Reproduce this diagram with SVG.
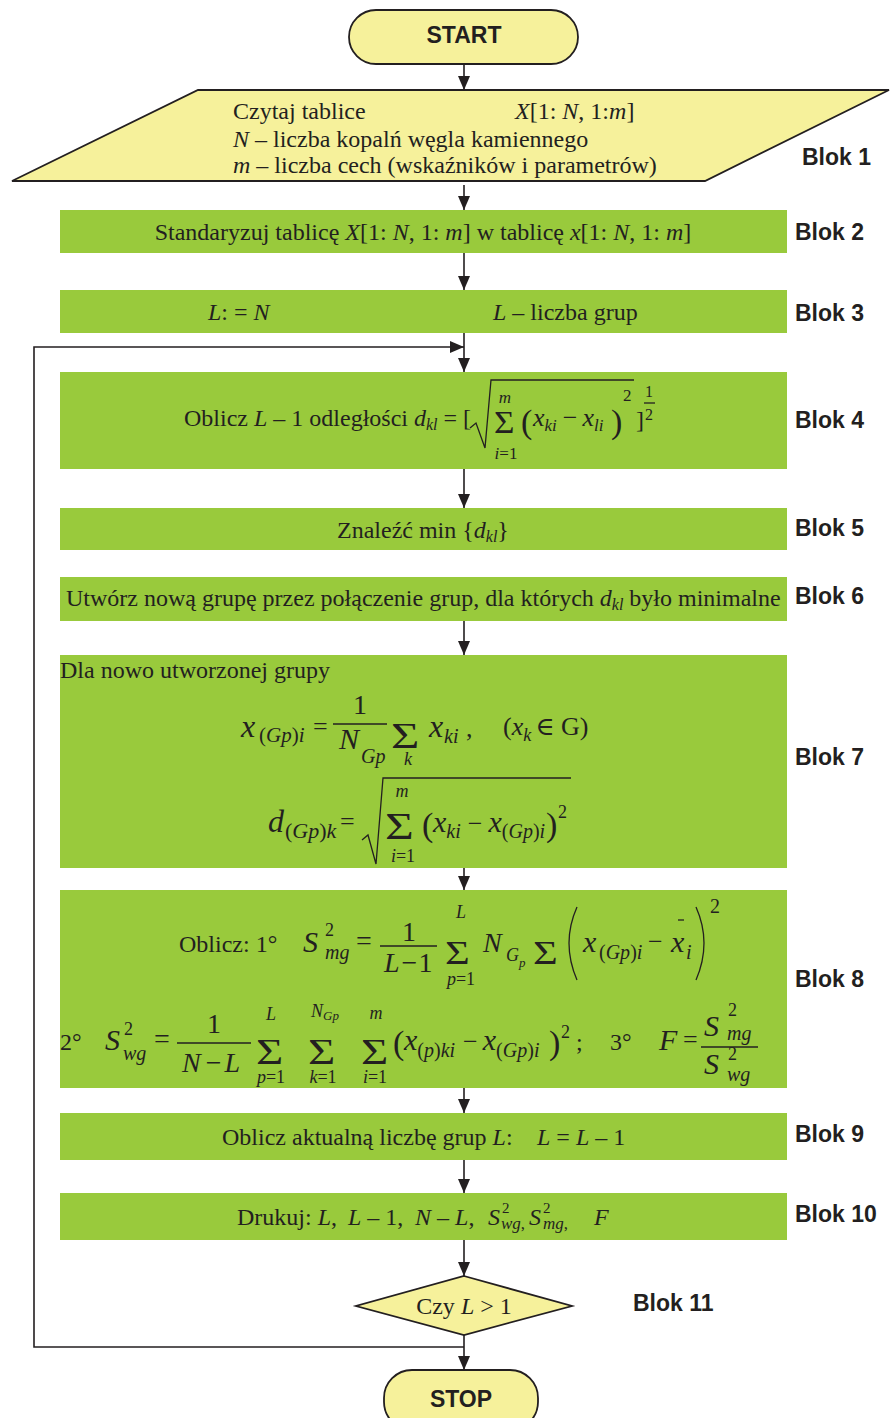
<svg xmlns="http://www.w3.org/2000/svg" width="891" height="1418" viewBox="0 0 891 1418" font-size="24">
<defs>
<style>
.t{font-family:"Liberation Serif","Times New Roman","DejaVu Serif",serif;fill:#231f20}
.i{font-style:italic}
.lbl{font-family:"Liberation Sans",Arial,sans-serif;font-weight:bold;font-size:23px;fill:#231f20}
.term{fill:#f6f19b;stroke:#231f20;stroke-width:1.8}
.proc{fill:#99ca3c}
.ln{stroke:#231f20;stroke-width:1.6;fill:none}
.m{stroke:#231f20;stroke-width:1.3;fill:none}
</style>
<marker id="ahb" viewBox="0 0 14 12" refX="14" refY="6" markerWidth="14" markerHeight="12" markerUnits="userSpaceOnUse" orient="auto">
<path d="M0,0 L14,6 L0,12 z" fill="#231f20"/>
</marker>
</defs>
<rect width="891" height="1418" fill="#ffffff"/>

<g id="connectors">
<line class="ln" x1="464" y1="64" x2="464" y2="90" marker-end="url(#ahb)"/>
<line class="ln" x1="464" y1="185" x2="464" y2="210" marker-end="url(#ahb)"/>
<line class="ln" x1="464" y1="253" x2="464" y2="290" marker-end="url(#ahb)"/>
<line class="ln" x1="464" y1="333" x2="464" y2="372" marker-end="url(#ahb)"/>
<polyline class="ln" points="464,1347 34,1347 34,347 464,347" marker-end="url(#ahb)"/>
<line class="ln" x1="464" y1="469" x2="464" y2="508" marker-end="url(#ahb)"/>
<line class="ln" x1="464" y1="621" x2="464" y2="655" marker-end="url(#ahb)"/>
<line class="ln" x1="464" y1="868" x2="464" y2="890" marker-end="url(#ahb)"/>
<line class="ln" x1="464" y1="1088" x2="464" y2="1113" marker-end="url(#ahb)"/>
<line class="ln" x1="464" y1="1160" x2="464" y2="1193" marker-end="url(#ahb)"/>
<line class="ln" x1="464" y1="1240" x2="464" y2="1276" marker-end="url(#ahb)"/>
<line class="ln" x1="464" y1="1335" x2="464" y2="1370" marker-end="url(#ahb)"/>
</g>

<g id="start">
<rect class="term" x="349" y="10" width="229" height="54" rx="27"/>
<text class="lbl" x="464" y="43" text-anchor="middle">START</text>
</g>

<g id="blok1">
<polygon class="term" points="198,90 889,90 705,181 12,181"/>
<text class="t" x="233" y="119">Czytaj tablice</text>
<text class="t" x="515" y="119"><tspan class="i">X</tspan>[1: <tspan class="i">N</tspan>, 1:<tspan class="i">m</tspan>]</text>
<text class="t" x="233" y="147"><tspan class="i">N</tspan> – liczba kopalń węgla kamiennego</text>
<text class="t" x="233" y="173"><tspan class="i">m</tspan> – liczba cech (wskaźników i parametrów)</text>
<text class="lbl" x="802" y="165">Blok 1</text>
</g>

<g id="blok2">
<rect class="proc" x="60" y="210" width="727" height="43"/>
<text class="t" x="423" y="240" text-anchor="middle">Standaryzuj tablicę <tspan class="i">X</tspan>[1: <tspan class="i">N</tspan>, 1: <tspan class="i">m</tspan>] w tablicę <tspan class="i">x</tspan>[1: <tspan class="i">N</tspan>, 1: <tspan class="i">m</tspan>]</text>
<text class="lbl" x="795" y="240">Blok 2</text>
</g>

<g id="blok3">
<rect class="proc" x="60" y="290" width="727" height="43"/>
<text class="t" x="208" y="320"><tspan class="i">L</tspan>: = <tspan class="i">N</tspan></text>
<text class="t" x="493" y="320"><tspan class="i">L</tspan> – liczba grup</text>
<text class="lbl" x="795" y="321">Blok 3</text>
</g>

<g id="blok4">
<rect class="proc" x="60" y="372" width="727" height="97"/>
<text class="t" x="184" y="426">Oblicz <tspan class="i">L</tspan> – 1 odległości <tspan class="i">d</tspan><tspan class="i" font-size="16" dy="4">kl</tspan><tspan dy="-4"> = [</tspan></text>
<path class="m" d="M470,428 L476,423 L485,448 L491,380 L634,380"/>
<text class="t" x="505" y="403" font-size="17" text-anchor="middle"><tspan class="i">m</tspan></text>
<text class="t" transform="translate(494,433) scale(1.1,1)" font-size="32">Σ</text>
<text class="t" x="506" y="459" font-size="17" text-anchor="middle"><tspan class="i">i</tspan>=1</text>
<text class="t" x="521" y="433" font-size="34">(</text>
<text class="t" x="533" y="426" font-size="26"><tspan class="i">x</tspan><tspan class="i" font-size="17" dy="5">ki</tspan><tspan dy="-5" dx="6">−</tspan><tspan class="i" dx="5">x</tspan><tspan class="i" font-size="17" dy="5">li</tspan></text>
<text class="t" x="611" y="433" font-size="34">)</text>
<text class="t" x="623" y="401" font-size="17">2</text>
<text class="t" x="636" y="428">]</text>
<text class="t" x="645" y="397" font-size="16">1</text>
<line class="m" x1="644" y1="403" x2="655" y2="403" stroke-width="1"/>
<text class="t" x="645" y="420" font-size="16">2</text>
<text class="lbl" x="795" y="428">Blok 4</text>
</g>

<g id="blok5">
<rect class="proc" x="60" y="508" width="727" height="42"/>
<text class="t" x="337" y="538">Znaleźć min {<tspan class="i">d</tspan><tspan class="i" font-size="16" dy="4">kl</tspan><tspan dy="-4">}</tspan></text>
<text class="lbl" x="795" y="536">Blok 5</text>
</g>

<g id="blok6">
<rect class="proc" x="60" y="577" width="727" height="44"/>
<text class="t" x="66" y="606">Utwórz nową grupę przez połączenie grup, dla których <tspan class="i">d</tspan><tspan class="i" font-size="16" dy="4">kl</tspan><tspan dy="-4"> było minimalne</tspan></text>
<text class="lbl" x="795" y="604">Blok 6</text>
</g>

<g id="blok7">
<rect class="proc" x="60" y="655" width="727" height="213"/>
<text class="t" x="60" y="678">Dla nowo utworzonej grupy</text>
<text class="t i" x="241" y="737" font-size="32">x</text>
<text class="t" x="259" y="742" font-size="21">(<tspan class="i">Gp</tspan>)<tspan class="i">i</tspan></text>
<text class="t" x="313" y="735" font-size="26">=</text>
<text class="t" x="360" y="714" font-size="28" text-anchor="middle">1</text>
<line class="m" x1="333" y1="724" x2="387" y2="724"/>
<text class="t i" x="339" y="749" font-size="30">N</text>
<text class="t i" x="361" y="763" font-size="20">Gp</text>
<text class="t" transform="translate(391,748) scale(1.35,1)" font-size="36">Σ</text>
<text class="t i" x="408" y="765" font-size="18" text-anchor="middle">k</text>
<text class="t i" x="429" y="737" font-size="32">x</text>
<text class="t i" x="444" y="743" font-size="20">ki</text>
<text class="t" x="466" y="737" font-size="26">,</text>
<text class="t" x="503" y="735" font-size="26">(<tspan class="i">x</tspan><tspan class="i" font-size="18" dy="6">k</tspan><tspan dy="-6" dx="4">∈</tspan> G)</text>
<text class="t i" x="268" y="832" font-size="32">d</text>
<text class="t" x="285" y="838" font-size="22">(<tspan class="i">Gp</tspan>)<tspan class="i">k</tspan></text>
<text class="t" x="340" y="830" font-size="26">=</text>
<path class="m" d="M362,840 L368,835 L376,864 L383,778 L571,778"/>
<text class="t i" x="402" y="797" font-size="18" text-anchor="middle">m</text>
<text class="t" transform="translate(385,839) scale(1.3,1)" font-size="38">Σ</text>
<text class="t" x="403" y="862" font-size="18" text-anchor="middle"><tspan class="i">i</tspan>=1</text>
<text class="t" x="422" y="836" font-size="34">(</text>
<text class="t" x="433" y="832" font-size="30"><tspan class="i">x</tspan><tspan class="i" font-size="20" dy="6">ki</tspan><tspan dy="-6" dx="7" font-size="26">−</tspan><tspan class="i" dx="6">x</tspan><tspan font-size="20" dy="6">(<tspan class="i">Gp</tspan>)<tspan class="i">i</tspan></tspan></text>
<text class="t" x="546" y="836" font-size="34">)</text>
<text class="t" x="558" y="818" font-size="18">2</text>
<text class="lbl" x="795" y="765">Blok 7</text>
</g>

<g id="blok8">
<rect class="proc" x="60" y="890" width="727" height="198"/>
<text class="t" x="179" y="952">Oblicz: 1°</text>
<text class="t i" x="303" y="952" font-size="30">S</text>
<text class="t" x="325" y="936" font-size="18">2</text>
<text class="t i" x="325" y="959" font-size="20">mg</text>
<text class="t" x="356" y="950" font-size="28">=</text>
<text class="t" x="409" y="941" font-size="28" text-anchor="middle">1</text>
<line class="m" x1="380" y1="946" x2="437" y2="946"/>
<text class="t" x="384" y="972" font-size="28"><tspan class="i">L</tspan><tspan dx="2">−</tspan><tspan dx="1">1</tspan></text>
<text class="t i" x="461" y="918" font-size="18" text-anchor="middle">L</text>
<text class="t" transform="translate(445,964) scale(1.25,1)" font-size="34">Σ</text>
<text class="t" x="461" y="985" font-size="18" text-anchor="middle"><tspan class="i">p</tspan>=1</text>
<text class="t i" x="483" y="952" font-size="28">N</text>
<text class="t i" x="506" y="961" font-size="18">G</text>
<text class="t i" x="519" y="967" font-size="13">p</text>
<text class="t" transform="translate(533,964) scale(1.25,1)" font-size="34">Σ</text>
<path class="m" d="M577,907 Q561,943 577,980"/>
<text class="t i" x="583" y="952" font-size="30">x</text>
<text class="t" x="599" y="959" font-size="20">(<tspan class="i">Gp</tspan>)<tspan class="i">i</tspan></text>
<text class="t" x="648" y="950" font-size="26">−</text>
<text class="t i" x="671" y="952" font-size="30">x</text>
<line class="m" x1="678" y1="920" x2="684" y2="920"/>
<text class="t i" x="686" y="959" font-size="20">i</text>
<path class="m" d="M696,907 Q712,943 696,980"/>
<text class="t" x="710" y="913" font-size="20">2</text>

<text class="t" x="60" y="1050">2°</text>
<text class="t i" x="105" y="1050" font-size="30">S</text>
<text class="t" x="124" y="1035" font-size="18">2</text>
<text class="t i" x="123" y="1060" font-size="20">wg</text>
<text class="t" x="154" y="1048" font-size="28">=</text>
<text class="t" x="214" y="1033" font-size="28" text-anchor="middle">1</text>
<line class="m" x1="177" y1="1043" x2="251" y2="1043"/>
<text class="t" x="182" y="1072" font-size="28"><tspan class="i">N</tspan><tspan dx="5">−</tspan><tspan class="i" dx="3">L</tspan></text>
<text class="t i" x="271" y="1020" font-size="18" text-anchor="middle">L</text>
<text class="t" transform="translate(256,1064) scale(1.3,1)" font-size="36">Σ</text>
<text class="t" x="271" y="1083" font-size="18" text-anchor="middle"><tspan class="i">p</tspan>=1</text>
<text class="t i" x="311" y="1017" font-size="18">N<tspan font-size="13" dy="3">Gp</tspan></text>
<text class="t" transform="translate(308,1064) scale(1.3,1)" font-size="36">Σ</text>
<text class="t" x="323" y="1083" font-size="18" text-anchor="middle"><tspan class="i">k</tspan>=1</text>
<text class="t i" x="376" y="1019" font-size="18" text-anchor="middle">m</text>
<text class="t" transform="translate(361,1064) scale(1.3,1)" font-size="36">Σ</text>
<text class="t" x="375" y="1083" font-size="18" text-anchor="middle"><tspan class="i">i</tspan>=1</text>
<text class="t" x="393" y="1054" font-size="34">(</text>
<text class="t" x="404" y="1050" font-size="30"><tspan class="i">x</tspan><tspan font-size="20" dy="7">(<tspan class="i">p</tspan>)<tspan class="i">ki</tspan></tspan><tspan dy="-7" dx="8" font-size="26">−</tspan><tspan class="i" dx="5">x</tspan><tspan font-size="20" dy="7">(<tspan class="i">Gp</tspan>)<tspan class="i">i</tspan></tspan></text>
<text class="t" x="549" y="1054" font-size="34">)</text>
<text class="t" x="561" y="1038" font-size="18">2</text>
<text class="t" x="576" y="1050">;</text>
<text class="t" x="610" y="1050">3°</text>
<text class="t i" x="659" y="1050" font-size="30">F</text>
<text class="t" x="683" y="1048" font-size="26">=</text>
<text class="t i" x="704" y="1036" font-size="30">S</text>
<text class="t" x="728" y="1016" font-size="18">2</text>
<text class="t i" x="727" y="1040" font-size="20">mg</text>
<line class="m" x1="701" y1="1047" x2="758" y2="1047"/>
<text class="t i" x="704" y="1074" font-size="30">S</text>
<text class="t" x="728" y="1060" font-size="18">2</text>
<text class="t i" x="727" y="1081" font-size="20">wg</text>
<text class="lbl" x="795" y="987">Blok 8</text>
</g>

<g id="blok9">
<rect class="proc" x="60" y="1113" width="727" height="47"/>
<text class="t" x="222" y="1145">Oblicz aktualną liczbę grup <tspan class="i">L</tspan>:</text>
<text class="t" x="537" y="1145"><tspan class="i">L</tspan> = <tspan class="i">L</tspan> – 1</text>
<text class="lbl" x="795" y="1142">Blok 9</text>
</g>

<g id="blok10">
<rect class="proc" x="60" y="1193" width="727" height="47"/>
<text class="t" x="237" y="1225">Drukuj: <tspan class="i">L</tspan>,  <tspan class="i" x="348">L</tspan> – 1,  <tspan class="i" x="415">N</tspan> – <tspan class="i">L</tspan>,</text>
<text class="t i" x="488" y="1225">S</text>
<text class="t" x="502" y="1213" font-size="15">2</text>
<text class="t" x="501" y="1229" font-size="17"><tspan class="i">wg</tspan>,</text>
<text class="t i" x="529" y="1225">S</text>
<text class="t" x="543" y="1213" font-size="15">2</text>
<text class="t" x="543" y="1229" font-size="17"><tspan class="i">mg</tspan>,</text>
<text class="t i" x="594" y="1225">F</text>
<text class="lbl" x="795" y="1222">Blok 10</text>
</g>

<g id="blok11">
<polygon class="term" points="464,1276 572,1306 464,1335 356,1306"/>
<text class="t" x="464" y="1314" text-anchor="middle">Czy <tspan class="i">L</tspan> &gt; 1</text>
<text class="lbl" x="633" y="1311">Blok 11</text>
</g>

<g id="stop">
<rect class="term" x="384" y="1370" width="154" height="60" rx="28"/>
<text class="lbl" x="461" y="1407" text-anchor="middle">STOP</text>
</g>
</svg>
